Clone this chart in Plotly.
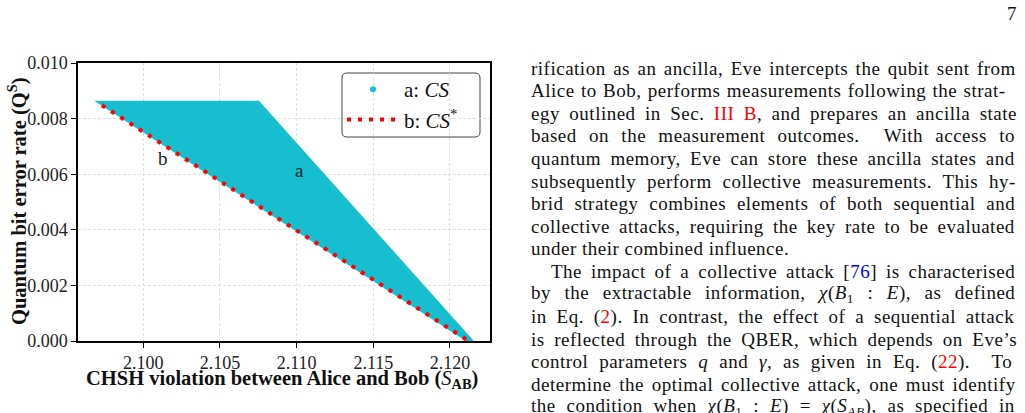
import re
import plotly.graph_objects as go

# ---- data ----
region_s = [2.09679, 2.10754, 2.12156, 2.12104]
region_q = [0.008643, 0.008643, 0.0, 0.0]
cs_star_s = [2.0973, 2.1040, 2.1100, 2.1160, 2.12122]
cs_star_q = [0.00848, 0.00610, 0.00398, 0.00185, 0.0]
x_ticks = [2.100, 2.105, 2.110, 2.115, 2.120]
x_tick_labels = ["2.100", "2.105", "2.110", "2.115", "2.120"]
y_ticks = [0.000, 0.002, 0.004, 0.006, 0.008, 0.010]
y_tick_labels = ["0.000", "0.002", "0.004", "0.006", "0.008", "0.010"]
x_range = [2.09574, 2.12261]
y_range = [0.0, 0.010]
label_a = (2.11021, 0.00613)
label_b = (2.10128, 0.00656)

RED = "#ff0000"
BLUE = "#0000ff"
def red(t): return f'<span style="color:{RED}">{t}</span>'
def blue(t): return f'<span style="color:{BLUE}">{t}</span>'

body_lines = [
    "rification as an ancilla, Eve intercepts the qubit sent from",
    "Alice to Bob, performs measurements following the strat-",
    f"egy outlined in Sec. {red('III B')}, and prepares an ancilla state",
    "based on the measurement outcomes.  With access to",
    "quantum memory, Eve can store these ancilla states and",
    "subsequently perform collective measurements. This hy-",
    "brid strategy combines elements of both sequential and",
    "collective attacks, requiring the key rate to be evaluated",
    "under their combined influence.",
    f"The impact of a collective attack [{blue('76')}] is characterised",
    "by the extractable information, <i>χ</i>(<i>B</i><sub>1</sub> : <i>E</i>), as defined",
    f"in Eq. ({red('2')}). In contrast, the effect of a sequential attack",
    "is reflected through the QBER, which depends on Eve’s",
    f"control parameters <i>q</i> and <i>γ</i>, as given in Eq. ({red('22')}).  To",
    "determine the optimal collective attack, one must identify",
    "the condition when <i>χ</i>(<i>B</i><sub>1</sub> : <i>E</i>) = <i>χ</i>(<i>S</i><sub><i>AB</i></sub>), as specified in",
]
# approximate natural widths (px) of each line at 17px Liberation Serif, used for justification
natural_w17 = [390, 403, 372, 362, 381, 386, 376, 381, 219, 366, 352, 368, 380, 356, 393, 361]
justify = [True] * 16
justify[8] = False

FONT = "Liberation Serif"
CYAN = "#17becf"
BODY_SIZE = 19
LS = 0.5

W, H = 1025, 413
L, R, T, B = 78, 535, 63, 72
PW, PH = W - L - R, H - T - B
def px(x): return (x - L) / PW
def py(y): return (H - B - y) / PH

fig = go.Figure()
fig.add_trace(go.Scatter(x=region_s, y=region_q, mode="lines", fill="toself",
                         fillcolor=CYAN, line=dict(width=0, color=CYAN),
                         showlegend=False, hoverinfo="skip"))
fig.add_trace(go.Scatter(x=[None], y=[None], mode="markers",
                         marker=dict(color=CYAN, size=6),
                         name="a: <i>CS</i>", legendgroup="a"))
fig.add_trace(go.Scatter(x=cs_star_s, y=cs_star_q, mode="lines",
                         line=dict(color=RED, width=4, dash="4px,7px"),
                         name="b: <i>CS</i><sup>*</sup>", legendgroup="b"))

axis_common = dict(showline=True, linecolor="black", linewidth=1.5, mirror=True,
                   ticks="outside", ticklen=5, tickwidth=1.2, tickcolor="black",
                   showgrid=True, gridcolor="#e0e0e0", griddash="3px,2px", gridwidth=1,
                   zeroline=False, tickfont=dict(family=FONT, size=18, color="#222"))
fig.update_xaxes(range=x_range, tickvals=x_ticks, ticktext=x_tick_labels, **axis_common)
fig.update_yaxes(range=y_range, tickvals=y_ticks, ticktext=y_tick_labels, **axis_common)

annotations = [
    dict(x=label_a[0], y=label_a[1], xref="x", yref="y", text="a", showarrow=False,
         xanchor="center", yanchor="middle", font=dict(family=FONT, size=19, color="#222")),
    dict(x=label_b[0], y=label_b[1], xref="x", yref="y", text="b", showarrow=False,
         xanchor="center", yanchor="middle", font=dict(family=FONT, size=19, color="#222")),
    dict(x=px(17), y=py(201), xref="paper", yref="paper", textangle=-90,
         xanchor="center", yanchor="middle",
         text="<b>Quantum bit error rate (Q<sup>S</sup>)</b>", showarrow=False,
         font=dict(family=FONT, size=20.5, color="#111")),
    dict(x=px(282), y=py(379), xref="paper", yref="paper",
         xanchor="center", yanchor="middle",
         text="<b>CHSH violation between Alice and Bob (</b><i>S</i><sub><b>AB</b></sub><b>)</b>",
         showarrow=False, font=dict(family=FONT, size=20.5, color="#111")),
    dict(x=px(1019), y=py(14), xref="paper", yref="paper", xanchor="right", yanchor="middle",
         text="7", showarrow=False, font=dict(family=FONT, size=19, color="#111")),
]
for i, line in enumerate(body_lines):
    x0 = 549 if i == 9 else 529
    target = 1015 - x0
    plain = re.sub(r"<[^>]+>", "", line)
    nchars = len(plain)
    nspaces = plain.count(" ")
    w = natural_w17[i] * BODY_SIZE / 17 + LS * nchars
    ws = (target - w) / nspaces if justify[i] else 0
    styled = f'<span style="letter-spacing:{LS}px;word-spacing:{ws:.2f}px">{line}</span>'
    annotations.append(dict(x=px(x0), y=py(68 + 22.6 * i), xref="paper", yref="paper",
                            xanchor="left", yanchor="middle", text=styled, showarrow=False,
                            font=dict(family=FONT, size=BODY_SIZE, color="#111")))

# rounded legend frame
x0, x1, y0, y1 = px(342), px(480), py(137), py(73)
rx, ry = 5 / PW, 5 / PH
path = (f"M{x0+rx},{y0} L{x1-rx},{y0} Q{x1},{y0} {x1},{y0+ry} L{x1},{y1-ry} "
        f"Q{x1},{y1} {x1-rx},{y1} L{x0+rx},{y1} Q{x0},{y1} {x0},{y1-ry} "
        f"L{x0},{y0+ry} Q{x0},{y0} {x0+rx},{y0} Z")

fig.update_layout(
    width=W, height=H, margin=dict(l=L, r=R, t=T, b=B),
    paper_bgcolor="white", plot_bgcolor="white", template="none",
    font=dict(family=FONT, color="#111"),
    annotations=annotations,
    shapes=[dict(type="path", path=path, xref="paper", yref="paper",
                 line=dict(color="#444", width=1), fillcolor="rgba(255,255,255,0.8)",
                 layer="below")],
    legend=dict(x=px(342), y=py(69), xanchor="left", yanchor="top",
                bgcolor="rgba(0,0,0,0)", borderwidth=0,
                font=dict(family=FONT, size=21, color="#111"),
                traceorder="grouped", tracegroupgap=0, itemwidth=52),
    showlegend=True,
)

fig.write_html("out.html")
